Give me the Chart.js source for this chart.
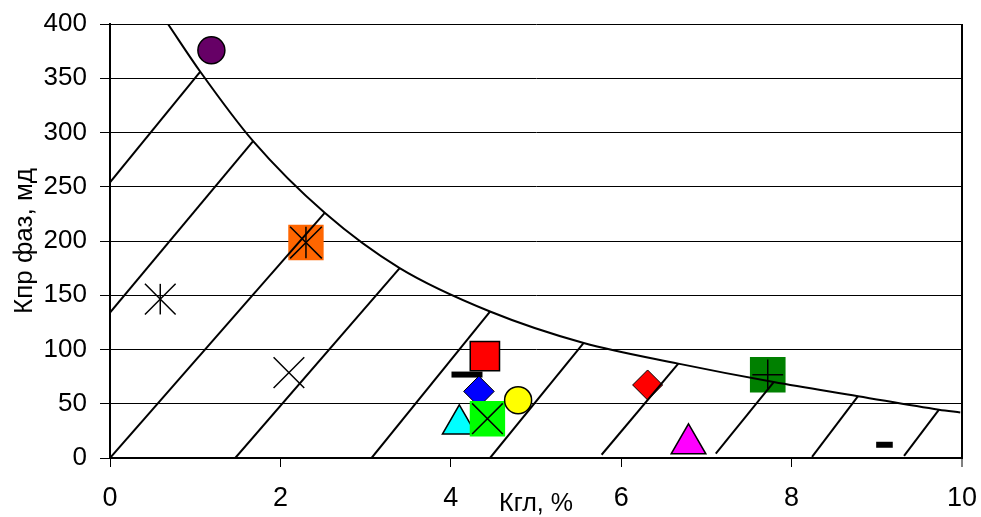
<!DOCTYPE html>
<html>
<head>
<meta charset="utf-8">
<script src="https://cdn.jsdelivr.net/npm/chart.js@4.4.1/dist/chart.umd.min.js"></script>
<style>
  html, body { margin: 0; padding: 0; background: #fff; }
  canvas { display: block; }
</style>
</head>
<body>
<canvas id="myChart" width="981" height="517"></canvas>
<script>
// boundary curve
const curveX = [0.68, 1.06, 1.68, 2.52, 3.40, 4.46, 5.56, 6.67, 7.79, 8.78, 9.73, 9.98];
const curveY = [400, 356, 292, 226, 175, 135, 106, 87, 70, 57, 44.5, 42];

// hatching lines under the curve (start -> end)
const hatchX0 = [0, 0, 0, 1.47, 3.07, 4.46, 5.77, 7.11, 8.24, 9.32];
const hatchY0 = [254, 134, 0, 0, 0, 0, 3, 4, 1, 2];
const hatchX1 = [1.06, 1.68, 2.52, 3.40, 4.46, 5.56, 6.67, 7.79, 8.78, 9.73];
const hatchY1 = [356, 292, 226, 175, 135, 106, 87, 70, 57, 44.5];

// measured samples
const pointX = [1.19, 2.30, 0.59, 2.10, 4.40, 4.19, 4.33, 4.10, 4.43, 4.79, 6.31, 6.79, 7.72, 9.09];
const pointY = [375.8, 198.6, 146.4, 78.7, 93.8, 76.9, 61.4, 31.1, 36.2, 53.3, 67.3, 13.1, 76.7, 12.2];

const FONT = '"Liberation Sans", Arial, sans-serif';

// marker look for each sample (one or more layers)
const markerStyles = [
  [{shape: 'circle', r: 13.5, fill: '#660066', w: 1.5}],
  [{shape: 'rect', r: 25, fill: '#FF6600', w: 0}, {shape: 'crossRot', r: 22.4, w: 1.5}, {shape: 'line', r: 15.8, rot: 90, w: 1.5}],
  [{shape: 'crossRot', r: 21.7, w: 1.5}, {shape: 'line', r: 15.3, rot: 90, w: 1.5}],
  [{shape: 'crossRot', r: 21.7, w: 1.5}],
  [{shape: 'rect', r: 20.7, fill: '#FF0000', w: 1.5}],
  [{shape: 'line', r: 15.5, w: 6}],
  [{shape: 'rectRot', r: 15.3, fill: '#0000FF', w: 1}],
  [{shape: 'triangle', r: 19.5, fill: '#00FFFF', w: 1.5}],
  [{shape: 'rect', r: 25, fill: '#00FF00', w: 0}, {shape: 'crossRot', r: 21.7, w: 1.5}],
  [{shape: 'circle', r: 13.5, fill: '#FFFF00', w: 1.5}],
  [{shape: 'rectRot', r: 15, fill: '#FF0000', w: 1}],
  [{shape: 'triangle', r: 20, fill: '#FF00FF', w: 1.5}],
  [{shape: 'rect', r: 25.2, fill: '#008000', w: 0}, {shape: 'cross', r: 15.4, w: 1.5}],
  [{shape: 'line', r: 8.3, w: 6}]
];

const datasets = [];

datasets.push({
  data: curveX.map((x, i) => ({x: x, y: curveY[i]})),
  showLine: true,
  pointRadius: 0,
  borderColor: '#000',
  borderWidth: 2,
  cubicInterpolationMode: 'monotone',
  order: 0
});

hatchX0.forEach(function(x0, i) {
  datasets.push({
    data: [{x: x0, y: hatchY0[i]}, {x: hatchX1[i], y: hatchY1[i]}],
    showLine: true,
    pointRadius: 0,
    borderColor: '#000',
    borderWidth: 2,
    order: 0
  });
});

pointX.forEach(function(x, i) {
  markerStyles[i].forEach(function(m, j) {
    datasets.push({
      data: [{x: x, y: pointY[i]}],
      showLine: false,
      pointStyle: m.shape,
      pointRadius: m.r,
      pointHoverRadius: m.r,
      pointRotation: m.rot || 0,
      pointBackgroundColor: m.fill || 'rgba(0,0,0,0)',
      pointBorderColor: '#000',
      pointBorderWidth: m.w,
      order: 1000 - (i * 10 + j)
    });
  });
});

const ctx = document.getElementById('myChart');
new Chart(ctx, {
  type: 'scatter',
  data: { datasets: datasets },
  options: {
    responsive: false,
    animation: false,
    devicePixelRatio: 1,
    layout: { autoPadding: false, padding: { top: 24, right: 19, left: 0, bottom: 0 } },
    plugins: {
      legend: { display: false },
      tooltip: { enabled: false }
    },
    scales: {
      x: {
        type: 'linear',
        min: 0,
        max: 10,
        afterFit: function(scale) {
          scale.height = 59;
          scale.paddingLeft = 0;
          scale.paddingRight = 0;
        },
        ticks: { stepSize: 2, color: '#000', padding: 15, maxRotation: 0, font: { family: FONT, size: 27 } },
        grid: {
          color: c => (c.tick && c.tick.value === 10) ? '#000' : 'rgba(0,0,0,0)',
          lineWidth: c => (c.tick && c.tick.value === 10) ? 2 : 1,
          tickColor: '#000',
          tickLength: 9,
          tickWidth: 1
        },
        border: { color: '#000', width: 2 },
        title: { display: true, text: 'Кгл, %', color: '#000', font: { family: FONT, size: 25 }, padding: { top: 0, bottom: -2 } }
      },
      y: {
        min: 0,
        max: 400,
        afterFit: function(scale) {
          scale.width = 110;
          scale.paddingTop = 0;
          scale.paddingBottom = 0;
        },
        ticks: { stepSize: 50, color: '#000', padding: 13, font: { family: FONT, size: 26 } },
        grid: { color: '#000', lineWidth: 1, tickColor: '#000', tickLength: 10, tickWidth: 1 },
        border: { color: '#000', width: 2 },
        title: { display: true, text: 'Кпр фаз, мд', color: '#000', font: { family: FONT, size: 26 }, padding: { top: 9, bottom: 0 } }
      }
    }
  }
});
</script>
</body>
</html>
